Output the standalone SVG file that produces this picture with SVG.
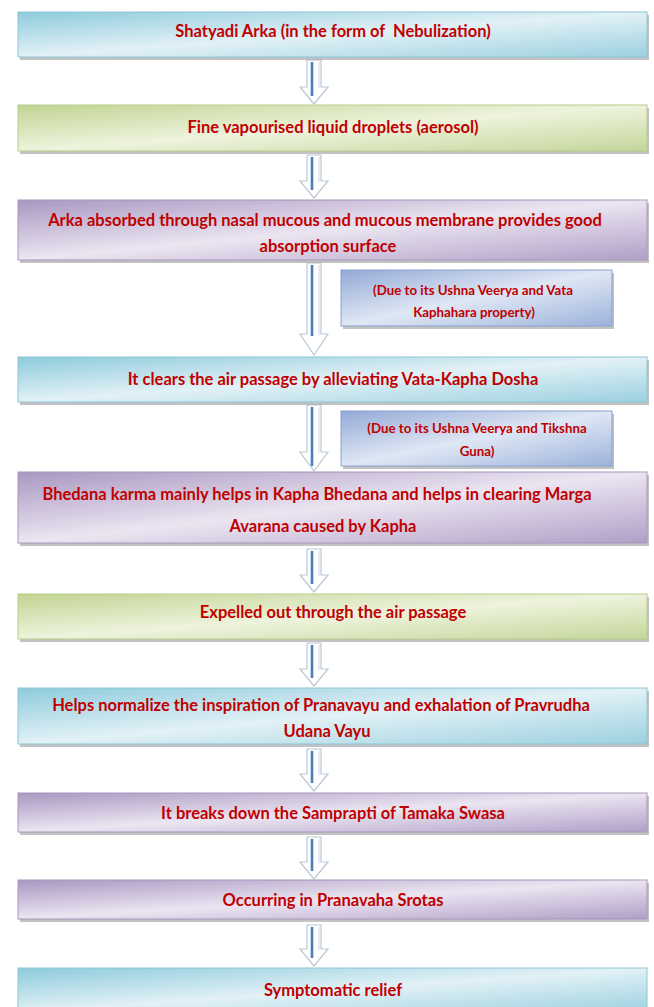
<svg xmlns="http://www.w3.org/2000/svg" width="654" height="1007" viewBox="0 0 654 1007">
<defs>
<linearGradient id="gBlue" x1="0" y1="0" x2="1" y2="1">
<stop offset="0" stop-color="#8ecbdc"/><stop offset="0.5" stop-color="#e2f1f6"/><stop offset="1" stop-color="#9bd0df"/>
</linearGradient>
<linearGradient id="gGreen" x1="0" y1="0" x2="1" y2="1">
<stop offset="0" stop-color="#c1d492"/><stop offset="0.5" stop-color="#eef3dd"/><stop offset="1" stop-color="#c4d69a"/>
</linearGradient>
<linearGradient id="gPurple" x1="0" y1="0" x2="1" y2="1">
<stop offset="0" stop-color="#a997c1"/><stop offset="0.5" stop-color="#ebe5f1"/><stop offset="1" stop-color="#b09fc7"/>
</linearGradient>
<linearGradient id="gSide" x1="0" y1="0" x2="1" y2="1">
<stop offset="0" stop-color="#93a9d6"/><stop offset="0.5" stop-color="#dfe7f4"/><stop offset="1" stop-color="#9cb2db"/>
</linearGradient>
</defs>
<style>
.sh{fill:#9a9a9a;opacity:0.6}
.t{font-family:Lato,"Liberation Sans",sans-serif;font-weight:bold;font-size:16.5px;fill:#c00000;text-anchor:middle;white-space:pre}
.st{font-family:Lato,"Liberation Sans",sans-serif;font-weight:bold;font-size:13.3px;fill:#c00000;text-anchor:middle}
.ao{fill:#ffffff;stroke:#b9c7d6;stroke-width:1.2}
.al{stroke:#4a7ebb;stroke-width:2.6}
.ag{stroke:#d0d8e0;stroke-width:1}
</style>
<rect width="654" height="1007" fill="#ffffff"/>
<g id="connectors">
<g><path class="ao" d="M307,60 L321,60 L321,87 L328,87 L314,104 L300,87 L307,87 Z"/><line class="al" x1="312" y1="62" x2="312" y2="96"/><line class="ag" x1="319" y1="62" x2="319" y2="88"/></g>
<g><path class="ao" d="M307,155 L321,155 L321,181 L328,181 L314,198 L300,181 L307,181 Z"/><line class="al" x1="312" y1="157" x2="312" y2="190"/><line class="ag" x1="319" y1="157" x2="319" y2="182"/></g>
<g><path class="ao" d="M307,263 L321,263 L321,334 L328,334 L314,355 L300,334 L307,334 Z"/><line class="al" x1="312" y1="265" x2="312" y2="336"/><line class="ag" x1="319" y1="265" x2="319" y2="335"/></g>
<g><path class="ao" d="M307,405 L321,405 L321,452 L328,452 L314,471 L300,452 L307,452 Z"/><line class="al" x1="312" y1="407" x2="312" y2="466"/><line class="ag" x1="319" y1="407" x2="319" y2="453"/></g>
<g><path class="ao" d="M307,549 L321,549 L321,575 L328,575 L314,592 L300,575 L307,575 Z"/><line class="al" x1="312" y1="551" x2="312" y2="584"/><line class="ag" x1="319" y1="551" x2="319" y2="576"/></g>
<g><path class="ao" d="M307,643 L321,643 L321,669 L328,669 L314,686 L300,669 L307,669 Z"/><line class="al" x1="312" y1="645" x2="312" y2="678"/><line class="ag" x1="319" y1="645" x2="319" y2="670"/></g>
<g><path class="ao" d="M307,749 L321,749 L321,774 L328,774 L314,791 L300,774 L307,774 Z"/><line class="al" x1="312" y1="751" x2="312" y2="783"/><line class="ag" x1="319" y1="751" x2="319" y2="775"/></g>
<g><path class="ao" d="M307,837 L321,837 L321,862 L328,862 L314,879 L300,862 L307,862 Z"/><line class="al" x1="312" y1="839" x2="312" y2="871"/><line class="ag" x1="319" y1="839" x2="319" y2="863"/></g>
<g><path class="ao" d="M307,925 L321,925 L321,949 L328,949 L314,966 L300,949 L307,949 Z"/><line class="al" x1="312" y1="927" x2="312" y2="958"/><line class="ag" x1="319" y1="927" x2="319" y2="950"/></g>
</g>
<g id="n1"><rect class="sh" x="20" y="15" width="629" height="45"/><rect x="18" y="12" width="629" height="45" fill="url(#gBlue)" stroke="#8cc6d6"/><text class="t" x="333" y="37">Shatyadi Arka (in the form of  Nebulization)</text></g>
<g id="n2"><rect class="sh" x="20" y="108" width="629" height="46"/><rect x="18" y="105" width="629" height="46" fill="url(#gGreen)" stroke="#b9cd8a"/><text class="t" x="333" y="133">Fine vapourised liquid droplets (aerosol)</text></g>
<g id="n3"><rect class="sh" x="20" y="203" width="629" height="60"/><rect x="18" y="200" width="629" height="60" fill="url(#gPurple)" stroke="#a796be"/><text class="t" x="325" y="226">Arka absorbed through nasal mucous and mucous membrane provides good</text><text class="t" x="328" y="252">absorption surface</text></g>
<g id="s1"><rect class="sh" x="343" y="273" width="271" height="56"/><rect x="341" y="270" width="271" height="56" fill="url(#gSide)" stroke="#8aa2cf"/><text class="st" x="473" y="295">(Due to its Ushna Veerya and Vata</text><text class="st" x="474" y="317">Kaphahara property)</text></g>
<g id="n4"><rect class="sh" x="20" y="360" width="629" height="45"/><rect x="18" y="357" width="629" height="45" fill="url(#gBlue)" stroke="#8cc6d6"/><text class="t" x="333" y="385">It clears the air passage by alleviating Vata-Kapha Dosha</text></g>
<g id="s2"><rect class="sh" x="343" y="414" width="271" height="55"/><rect x="341" y="411" width="271" height="55" fill="url(#gSide)" stroke="#8aa2cf"/><text class="st" x="477" y="433">(Due to its Ushna Veerya and Tikshna</text><text class="st" x="477" y="456">Guna)</text></g>
<g id="n5"><rect class="sh" x="20" y="475" width="629" height="71"/><rect x="18" y="472" width="629" height="71" fill="url(#gPurple)" stroke="#a796be"/><text class="t" x="317" y="500">Bhedana karma mainly helps in Kapha Bhedana and helps in clearing Marga</text><text class="t" x="323" y="532">Avarana caused by Kapha</text></g>
<g id="n6"><rect class="sh" x="20" y="597" width="629" height="45"/><rect x="18" y="594" width="629" height="45" fill="url(#gGreen)" stroke="#b9cd8a"/><text class="t" x="333" y="618">Expelled out through the air passage</text></g>
<g id="n7"><rect class="sh" x="20" y="691" width="629" height="56"/><rect x="18" y="688" width="629" height="56" fill="url(#gBlue)" stroke="#8cc6d6"/><text class="t" x="321" y="711">Helps normalize the inspiration of Pranavayu and exhalation of Pravrudha</text><text class="t" x="327" y="737">Udana Vayu</text></g>
<g id="n8"><rect class="sh" x="20" y="796" width="629" height="39"/><rect x="18" y="793" width="629" height="39" fill="url(#gPurple)" stroke="#a796be"/><text class="t" x="333" y="819">It breaks down the Samprapti of Tamaka Swasa</text></g>
<g id="n9"><rect class="sh" x="20" y="883" width="629" height="39"/><rect x="18" y="880" width="629" height="39" fill="url(#gPurple)" stroke="#a796be"/><text class="t" x="333" y="906">Occurring in Pranavaha Srotas</text></g>
<g id="n10"><rect x="18" y="968" width="629" height="45" fill="url(#gBlue)" stroke="#8cc6d6"/><text class="t" x="333" y="996">Symptomatic relief</text></g>
</svg>
